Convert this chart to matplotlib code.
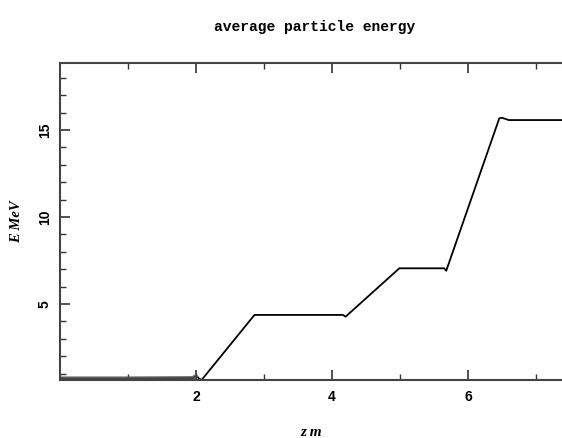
import matplotlib

matplotlib.use("Agg")
import matplotlib.pyplot as plt
from matplotlib.ticker import FixedLocator, MultipleLocator

# average particle energy along the beamline
z_m = [0.0, 1.0, 1.95, 2.0, 2.08, 2.86, 4.16, 4.2, 4.99, 5.65, 5.68, 6.46, 6.5, 6.6, 8.0]
energy_mev = [0.72, 0.72, 0.74, 0.85, 0.62, 4.37, 4.37, 4.27, 7.05, 7.05, 6.91, 15.67, 15.7, 15.57, 15.57]

x_ticks = [2, 4, 6]
x_minor = [1, 3, 5, 7]

title = "average particle energy"
xlabel = "z m"
ylabel = "E MeV"

fig = plt.figure(figsize=(5.62, 4.38), dpi=100)
ax = fig.add_axes([60 / 562, 1 - 380 / 438, 544 / 562, 317 / 438])

ax.plot(z_m, energy_mev, color="black", linewidth=1.3)
# thicker overlapping band near the origin in the source plot
ax.plot(z_m[:4], energy_mev[:4], color="#555555", linewidth=3.0, alpha=0.8)

ax.set_xlim(0, 8)
ax.set_ylim(0.63, 18.85)
ax.xaxis.set_major_locator(FixedLocator(x_ticks))
ax.xaxis.set_minor_locator(FixedLocator(x_minor))
ax.yaxis.set_major_locator(MultipleLocator(5))
ax.yaxis.set_minor_locator(MultipleLocator(1))

ax.tick_params(which="both", direction="in", top=True, right=True, color="#333333")
ax.tick_params(which="major", length=7, width=1.2)
ax.tick_params(which="minor", length=4, width=1.0)
for spine in ax.spines.values():
    spine.set_color("#444444")
    spine.set_linewidth(1.5)

for lab in ax.get_xticklabels():
    lab.set_fontfamily("Liberation Sans")
    lab.set_fontweight("bold")
    lab.set_fontsize(10)
for lab in ax.get_yticklabels():
    lab.set_fontfamily("Liberation Sans")
    lab.set_fontweight("bold")
    lab.set_fontsize(10)
    lab.set_rotation(90)
    lab.set_verticalalignment("center")
ax.tick_params(axis="x", pad=7)
ax.tick_params(axis="y", pad=6)

fig.text(315 / 562, 1 - 27 / 438, title, ha="center", va="center",
         family="Liberation Mono", fontweight="bold", fontsize=10.5)
fig.text(17 / 562, 1 - 222 / 438, ylabel, ha="center", va="center", rotation=90,
         family="Liberation Serif", style="italic", fontweight="bold", fontsize=10.5)
fig.text(311 / 562, 1 - 432 / 438, xlabel, ha="center", va="center",
         family="Liberation Serif", style="italic", fontweight="bold", fontsize=11)

fig.savefig("out.png", dpi=100)
